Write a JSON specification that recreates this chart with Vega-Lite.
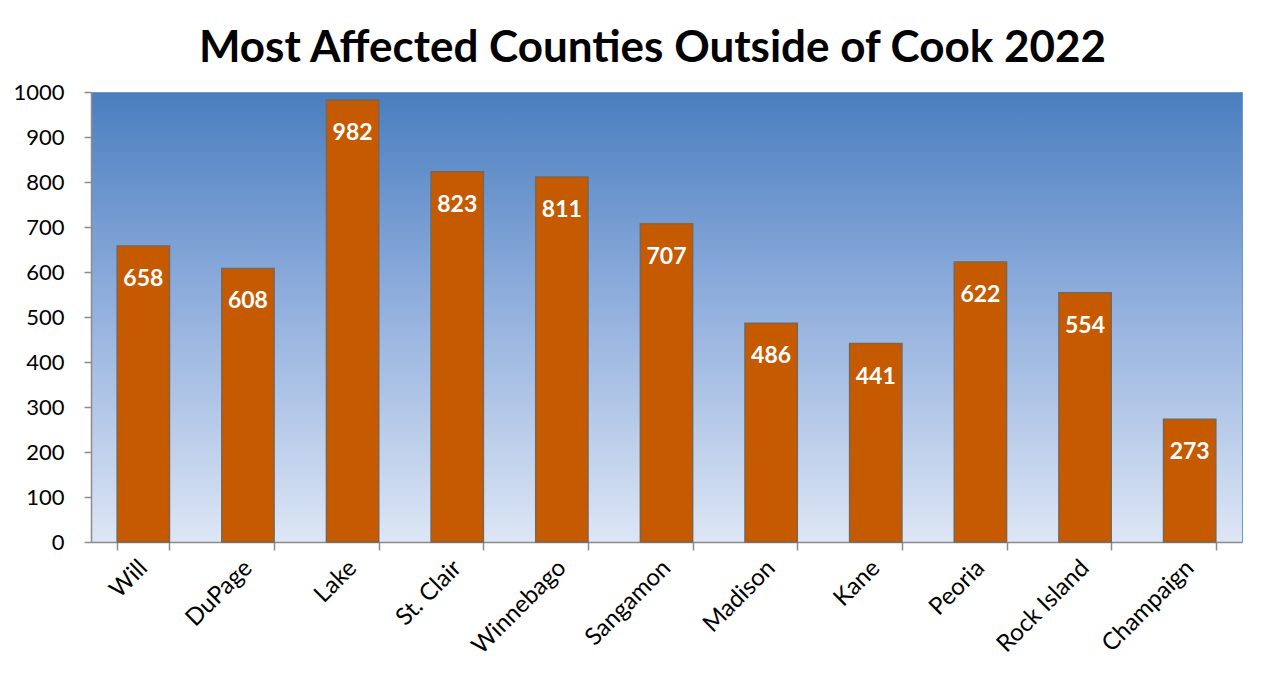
{
  "$schema": "https://vega.github.io/schema/vega-lite/v6.json",
  "width": 1151,
  "height": 450,
  "autosize": "none",
  "padding": {"left": 91, "top": 92, "right": 23, "bottom": 133},
  "background": "white",
  "title": {
    "text": "Most Affected Counties Outside of Cook 2022",
    "font": "Lato",
    "fontSize": 44,
    "fontWeight": "bold",
    "color": "black",
    "anchor": "middle",
    "offset": 10,
    "dx": -14
  },
  "data": {
    "values": [
      {"county": "Will", "cases": 658},
      {"county": "DuPage", "cases": 608},
      {"county": "Lake", "cases": 982},
      {"county": "St. Clair", "cases": 823},
      {"county": "Winnebago", "cases": 811},
      {"county": "Sangamon", "cases": 707},
      {"county": "Madison", "cases": 486},
      {"county": "Kane", "cases": 441},
      {"county": "Peoria", "cases": 622},
      {"county": "Rock Island", "cases": 554},
      {"county": "Champaign", "cases": 273}
    ]
  },
  "encoding": {
    "x": {
      "field": "county",
      "type": "nominal",
      "sort": null,
      "scale": {"paddingInner": 0.5, "paddingOuter": 0.25},
      "axis": {
        "title": null,
        "labelAngle": -45,
        "labelAlign": "right",
        "labelBaseline": "middle",
        "labelFont": "Lato",
        "labelFontSize": 24,
        "labelColor": "black",
        "labelPadding": 14,
        "tickBand": "extent",
        "tickSize": 8,
        "tickColor": "#8c8c8c",
        "tickWidth": 1.5,
        "domainColor": "#8c8c8c",
        "domainWidth": 1.5
      }
    },
    "y": {
      "field": "cases",
      "type": "quantitative",
      "scale": {"domain": [0, 1000]},
      "axis": {
        "title": null,
        "values": [0, 100, 200, 300, 400, 500, 600, 700, 800, 900, 1000],
        "format": "d",
        "grid": false,
        "labelFont": "Lato",
        "labelFontSize": 22,
        "labelColor": "black",
        "labelPadding": 20,
        "tickSize": 7,
        "tickColor": "#8c8c8c",
        "tickWidth": 1.5,
        "domainColor": "#8c8c8c",
        "domainWidth": 1.5
      }
    }
  },
  "layer": [
    {
      "mark": {"type": "bar", "color": "#c55a00", "stroke": "#7b6654", "strokeWidth": 1.5}
    },
    {
      "mark": {
        "type": "text",
        "color": "white",
        "font": "Lato",
        "fontSize": 23,
        "fontWeight": "bold",
        "baseline": "top",
        "dy": 22
      },
      "encoding": {"text": {"field": "cases", "type": "quantitative"}}
    }
  ],
  "config": {
    "view": {
      "fill": {
        "gradient": "linear",
        "x1": 0, "y1": 0, "x2": 0, "y2": 1,
        "stops": [
          {"offset": 0, "color": "#4a7ebf"},
          {"offset": 0.45, "color": "#8eaddc"},
          {"offset": 1, "color": "#dde6f5"}
        ]
      },
      "stroke": "#6f98cf",
      "strokeWidth": 1
    }
  }
}
